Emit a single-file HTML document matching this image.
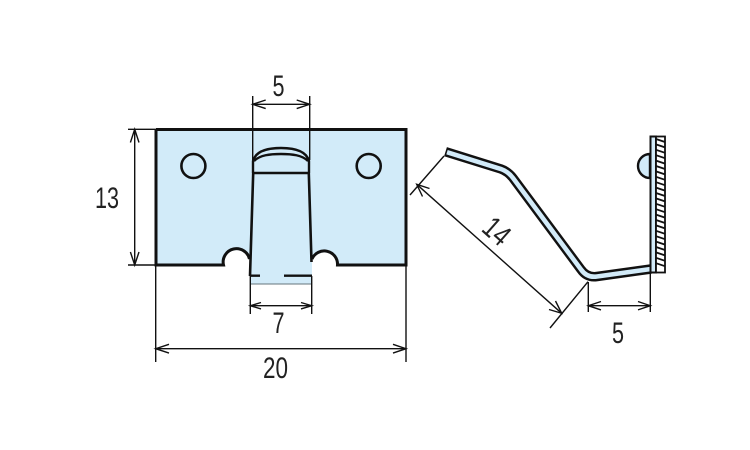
<!DOCTYPE html>
<html>
<head>
<meta charset="utf-8">
<style>
html,body{margin:0;padding:0;background:#fff}
svg{display:block}
text{font-family:"Liberation Sans",sans-serif;font-size:30px;fill:#222}
</style>
</head>
<body>
<svg width="750" height="450" viewBox="0 0 750 450" xmlns="http://www.w3.org/2000/svg">
<!-- front view -->
<rect x="250.5" y="262" width="61.5" height="22" fill="#d2ebf9"/>
<line x1="250.5" y1="284" x2="312" y2="284" stroke="#66747c" stroke-width="1"/>
<path d="M156 129.5H406V265H337.5A13.3 13.3 0 0 0 311 265L311 270H251L250 265A13.3 13.3 0 0 0 223.5 265H156Z" fill="#d2ebf9"/>
<path d="M223.5 265A13.3 13.3 0 0 1 250 262M337.5 265A13.3 13.3 0 0 0 311.5 262" fill="#fff" stroke="none"/>
<path d="M156 129.5H406V265H337.5A13.3 13.3 0 0 0 312 259M156 129.5V265H223.5A13.3 13.3 0 0 1 249.5 259" fill="none" stroke="#111" stroke-width="3"/>
<path d="M253.2 173L250 276M308.8 173L311.5 262" fill="none" stroke="#111" stroke-width="2.6"/>
<path d="M253 173V161C256 150 270 148 281 148C292 148 306 150 309 161V173M254 161C260 155 270 154 281 154C292 154 302 155 308 161" fill="none" stroke="#111" stroke-width="2.4"/>
<line x1="253" y1="173" x2="309" y2="173" stroke="#111" stroke-width="2.6"/>
<path d="M250 275.7H260M284 275.7H312" stroke="#111" stroke-width="2.4" fill="none"/>
<circle cx="193.4" cy="166" r="12" fill="none" stroke="#111" stroke-width="2.6"/>
<circle cx="368.7" cy="166" r="12" fill="none" stroke="#111" stroke-width="2.6"/>
<!-- side view -->
<path d="M445.500 151.700L501 169Q508 171.500 513 178L581 269.500Q587 278 597 276.500L651 269" fill="none" stroke="#111" stroke-width="9.500"/>
<path d="M447 152.200L501 169Q508 171.500 513 178L581 269.500Q587 278 597 276.500L651 269" fill="none" stroke="#d2ebf9" stroke-width="4.600"/>
<path d="M650 154A12 12 0 0 0 650 178Z" fill="#d2ebf9" stroke="#111" stroke-width="2.4"/>
<rect x="650.500" y="136.500" width="5.500" height="136" fill="#d2ebf9" stroke="#111" stroke-width="2"/>
<rect x="656" y="136.500" width="9" height="136" fill="#fff" stroke="#111" stroke-width="1.800"/>
<path d="M656 139l9 3M656 144.400l9 3M656 149.800l9 3M656 155.200l9 3M656 160.600l9 3M656 166l9 3M656 171.400l9 3M656 176.800l9 3M656 182.200l9 3M656 187.600l9 3M656 193l9 3M656 198.400l9 3M656 203.800l9 3M656 209.200l9 3M656 214.600l9 3M656 220l9 3M656 225.400l9 3M656 230.800l9 3M656 236.200l9 3M656 241.600l9 3M656 247l9 3M656 252.400l9 3M656 257.800l9 3M656 263.200l9 3" stroke="#111" stroke-width="1.800" fill="none"/>
<!-- dimension lines -->
<g fill="none" stroke="#111" stroke-width="1.400">
<path d="M252.700 96V160M309.700 96V160M252.700 104.300H309.700"/>
<path d="M265.700 100L252.700 104.300L265.700 108.600M296.700 100L309.700 104.300L296.700 108.600"/>
<path d="M250.300 276V314M311.700 276V314M250.300 305.700H311.700"/>
<path d="M261 302.500L250.300 305.700L261 308.900M301 302.500L311.700 305.700L301 308.900"/>
<path d="M155.700 265V362M406 265V362M155.700 348.700H406"/>
<path d="M169 344.300L155.700 348.700L169 353.100M393 344.300L406 348.700L393 353.100"/>
<path d="M128 129.300H156M128 265H156M134.700 129.300V265"/>
<path d="M130.400 142.500L134.700 129.300L139 142.500M130.400 252L134.700 265L139 252"/>
<path d="M444 156L410 195M588 281.700L550 328M416.700 184.300L561.700 313.300"/>
<path d="M422.500 196.500L416.700 184.300L429.500 188.500M549 309.500L561.700 313.300L555.500 301"/>
<path d="M588.300 282V312M650.300 273V312M588.300 305.700H650.300"/>
<path d="M601 301.500L588.300 305.700L601 309.900M638 301.500L650.300 305.700L638 309.900"/>
</g>
<!-- labels -->
<text x="272.500" y="96" textLength="12" lengthAdjust="spacingAndGlyphs">5</text>
<text x="95" y="208" textLength="24" lengthAdjust="spacingAndGlyphs">13</text>
<text x="272.500" y="333" textLength="12" lengthAdjust="spacingAndGlyphs">7</text>
<text x="263" y="378" textLength="25" lengthAdjust="spacingAndGlyphs">20</text>
<text x="612" y="343" textLength="12" lengthAdjust="spacingAndGlyphs">5</text>
<text transform="translate(497 231) rotate(41.500)" x="-13" y="10.500" textLength="26" lengthAdjust="spacingAndGlyphs">14</text>
</svg>
</body>
</html>
